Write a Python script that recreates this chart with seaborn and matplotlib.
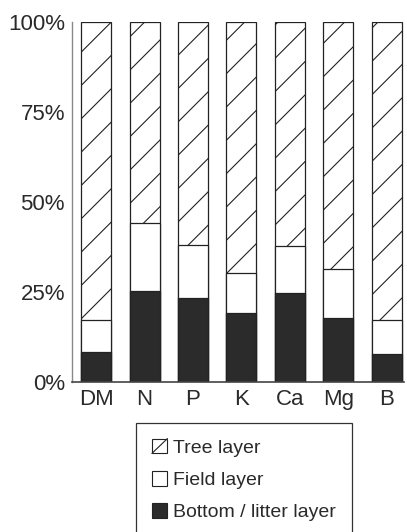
import matplotlib
matplotlib.use("Agg")
import matplotlib.pyplot as plt
import matplotlib.patches as mpatches
from matplotlib.legend_handler import HandlerBase
from matplotlib.lines import Line2D
import seaborn as sns
import pandas as pd

# Share of each element held by the three vegetation layers (%)
elements = ["DM", "N", "P", "K", "Ca", "Mg", "B"]
bottom_pct = [8.4, 25.3, 23.2, 19.3, 24.8, 17.7, 7.8]
field_pct = [8.8, 18.9, 14.8, 11.1, 13.1, 13.6, 9.4]
tree_pct = [82.8, 55.8, 62.0, 69.6, 62.1, 68.7, 82.8]
y_ticks = [0, 25, 50, 75, 100]
y_ticklabels = ["0%", "25%", "50%", "75%", "100%"]
layer_labels = ["Tree layer", "Field layer", "Bottom / litter layer"]

sns.set_style("white")
plt.rcParams["font.family"] = ["Liberation Sans", "DejaVu Sans"]
plt.rcParams["hatch.linewidth"] = 0.8
plt.rcParams["hatch.color"] = "#222222"

df = pd.DataFrame({
    "element": elements,
    "bottom": bottom_pct,
    "field": field_pct,
    "tree": tree_pct,
})
df["top_field"] = df["bottom"] + df["field"]
df["top_tree"] = df["top_field"] + df["tree"]

fig = plt.figure(figsize=(4.07, 5.32), dpi=100)
ax = fig.add_axes([72 / 407, 150 / 532, 332 / 407, 360 / 532])

edge = "#222222"
dark = "#2b2b2b"
bar_w = 0.62
# stacked bars drawn as overlapping cumulative totals
sns.barplot(data=df, x="element", y="top_tree", color="white", hatch="/",
            edgecolor=edge, linewidth=0.9, width=bar_w, saturation=1, ax=ax)
sns.barplot(data=df, x="element", y="top_field", color="white",
            edgecolor=edge, linewidth=0.9, width=bar_w, saturation=1, ax=ax)
sns.barplot(data=df, x="element", y="bottom", color=dark,
            edgecolor=edge, linewidth=0.9, width=bar_w, saturation=1, ax=ax)

ax.set_xlim(-0.5, 6.36)
ax.set_ylim(0, 100)
ax.set_yticks(y_ticks)
ax.set_yticklabels(y_ticklabels)
ax.set_xlabel("")
ax.set_ylabel("")
ax.tick_params(axis="both", length=0, labelsize=16, colors="#2a2a2a")
ax.tick_params(axis="y", pad=5)
ax.tick_params(axis="x", pad=5)
for s in ["top", "right"]:
    ax.spines[s].set_visible(False)
ax.spines["left"].set_color("#888888")
ax.spines["left"].set_linewidth(1.0)
ax.spines["bottom"].set_color("#444444")
ax.spines["bottom"].set_linewidth(1.2)


class DiagonalBoxHandler(HandlerBase):
    """Legend key: an open square crossed by a single diagonal stroke."""

    def create_artists(self, legend, orig_handle, xdescent, ydescent,
                       width, height, fontsize, trans):
        x0, y0 = -xdescent, -ydescent
        box = mpatches.Rectangle((x0, y0), width, height, facecolor="white",
                                 edgecolor=edge, linewidth=0.8, transform=trans)
        stroke = Line2D([x0, x0 + width], [y0, y0 + height], color=edge,
                        linewidth=0.8, transform=trans)
        return [box, stroke]


tree_key = mpatches.Patch(facecolor="white", edgecolor=edge, hatch="/")
handles = [
    tree_key,
    mpatches.Patch(facecolor="white", edgecolor=edge, linewidth=0.8),
    mpatches.Patch(facecolor=dark, edgecolor=edge, linewidth=0.8),
]
leg = fig.legend(handles, layer_labels, loc="upper center",
                 bbox_to_anchor=(244 / 407, (532 - 423) / 532),
                 frameon=True, fancybox=False, edgecolor="#333333",
                 framealpha=1, fontsize=14, handlelength=0.8, handleheight=0.8,
                 handletextpad=0.3, labelspacing=0.72, borderpad=0.8,
                 borderaxespad=0,
                 handler_map={tree_key: DiagonalBoxHandler()})
leg.get_frame().set_linewidth(0.9)
for t in leg.get_texts():
    t.set_color("#2a2a2a")

fig.savefig("out.png", dpi=100)
